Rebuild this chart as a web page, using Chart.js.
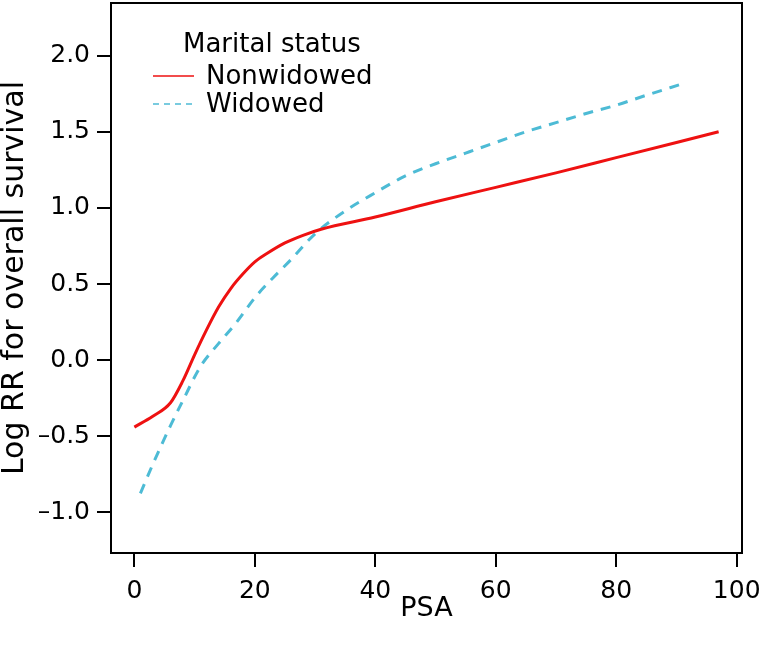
<!DOCTYPE html>
<html>
<head>
<meta charset="utf-8">
<script src="https://cdn.jsdelivr.net/npm/chart.js@4"></script>
<style>
  body { margin: 0; background: #fff; }
  #wrap { width: 768px; height: 648px; }
</style>
</head>
<body>
<div id="wrap"><canvas id="chart" width="768" height="648"></canvas></div>
<script>
// Nonwidowed curve (PSA, log RR)
const nonwidowedX = [0, 3, 6, 8, 10, 12, 14, 16, 18, 20, 22, 25, 28, 31, 40, 50, 60, 70, 80, 90, 97];
const nonwidowedY = [-0.44, -0.37, -0.28, -0.14, 0.035, 0.2, 0.35, 0.47, 0.565, 0.645, 0.70, 0.77, 0.82, 0.86, 0.94, 1.04, 1.135, 1.23, 1.33, 1.43, 1.50];

// Widowed curve
const widowedX = [1, 3, 6, 8, 11, 14, 17, 20, 23, 26, 30, 35, 40, 45, 50, 55, 60, 65, 70, 75, 80, 85, 91];
const widowedY = [-0.875, -0.69, -0.43, -0.27, -0.04, 0.11, 0.25, 0.41, 0.54, 0.66, 0.83, 0.98, 1.10, 1.21, 1.29, 1.36, 1.43, 1.50, 1.56, 1.62, 1.675, 1.74, 1.815];

const xTicks = [0, 20, 40, 60, 80, 100];
const yTicks = [-1.0, -0.5, 0.0, 0.5, 1.0, 1.5, 2.0];
const legendTitle = 'Marital status';

const FONT = "'DejaVu Sans', sans-serif";

function toPoints(xs, ys) {
    return xs.map((x, i) => ({ x: x, y: ys[i] }));
}

// box around the plot region + legend inside it
const boxPlugin = {
    id: 'box',
    afterDraw(chart) {
        const { ctx, chartArea: a } = chart;
        ctx.save();
        ctx.strokeStyle = '#000';
        ctx.lineWidth = 2;
        ctx.strokeRect(a.left, a.top, a.right - a.left, a.bottom - a.top);

        ctx.font = '26px ' + FONT;
        ctx.fillStyle = '#000';
        ctx.textBaseline = 'middle';
        ctx.textAlign = 'left';
        ctx.fillText(legendTitle, 183, 45);
        chart.data.datasets.forEach((ds, i) => {
            const y = 76 + i * 28;
            ctx.beginPath();
            ctx.strokeStyle = ds.borderColor;
            ctx.lineWidth = 1.6;
            ctx.setLineDash(ds.borderDash ? [6, 5] : []);
            ctx.moveTo(153, y);
            ctx.lineTo(194, y);
            ctx.stroke();
            ctx.setLineDash([]);
            ctx.fillText(ds.label, 206, y + 1);
        });
        ctx.restore();
    }
};

new Chart(document.getElementById('chart'), {
    type: 'line',
    data: {
        datasets: [
            { label: 'Nonwidowed', data: toPoints(nonwidowedX, nonwidowedY), borderColor: '#EE1111', borderWidth: 3, pointRadius: 0, cubicInterpolationMode: 'monotone' },
            { label: 'Widowed', data: toPoints(widowedX, widowedY), borderColor: '#4DBBD5', borderWidth: 3, borderDash: [10, 8], pointRadius: 0, cubicInterpolationMode: 'monotone' }
        ]
    },
    options: {
        responsive: false,
        animation: false,
        layout: { padding: { top: 3, right: 26, left: 0, bottom: 0 } },
        plugins: { legend: { display: false }, tooltip: { enabled: false } },
        scales: {
            x: {
                type: 'linear',
                min: -3.88,
                max: 100.88,
                afterBuildTicks: s => { s.ticks = xTicks.map(v => ({ value: v })); },
                afterFit: s => { s.height = 95; s.paddingLeft = 0; s.paddingRight = 0; },
                border: { display: false },
                grid: { drawOnChartArea: false, drawTicks: true, tickLength: 14, color: '#000', lineWidth: 2 },
                ticks: { color: '#000', font: { family: FONT, size: 25 }, padding: 9, maxRotation: 0 },
                title: { display: true, text: 'PSA', color: '#000', font: { family: FONT, size: 27, lineHeight: 1 }, padding: { top: 0, bottom: 26 } }
            },
            y: {
                min: -1.267,
                max: 2.346,
                afterBuildTicks: s => { s.ticks = yTicks.map(v => ({ value: v })); },
                afterFit: s => { s.width = 111; s.paddingTop = 0; s.paddingBottom = 0; },
                border: { display: false },
                grid: { drawOnChartArea: false, drawTicks: true, tickLength: 14, color: '#000', lineWidth: 2 },
                ticks: {
                    color: '#000', font: { family: FONT, size: 25 }, padding: 7,
                    callback: v => (v < 0 ? '\u2013' : '') + Math.abs(v).toFixed(1)
                },
                title: { display: true, text: 'Log RR for overall survival', color: '#000', font: { family: FONT, size: 30, lineHeight: 1 }, padding: { top: 0, bottom: 0 } }
            }
        }
    },
    plugins: [boxPlugin]
});
</script>
</body>
</html>
